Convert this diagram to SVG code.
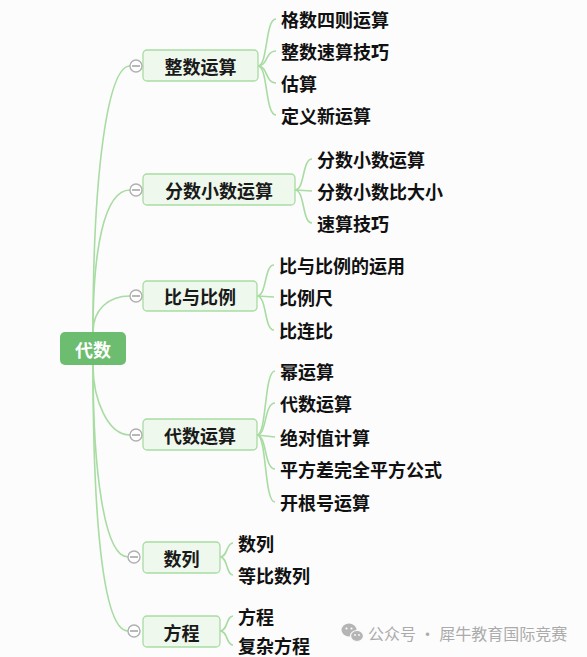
<svg xmlns="http://www.w3.org/2000/svg" width="587" height="657" viewBox="0 0 587 657">
<style>
text{font-family:"Noto Sans CJK SC","Noto Sans",sans-serif;font-weight:700;font-size:18px;dominant-baseline:central}
.leaf{fill:#111}
.topic rect{fill:#eef8ec;stroke:#a9dba3;stroke-width:1.3}
.topic text{fill:#1a1a1a;text-anchor:middle}
.ln{fill:none;stroke:#a8dca2;stroke-width:1.6}
.col circle{fill:#fff;stroke:#b0b0b0;stroke-width:1.4}
.col line{stroke:#9a9a9a;stroke-width:1.4}
.wm{fill:#ababab;font-weight:400;font-size:16px}
</style>
<rect width="587" height="657" fill="#fcfcfc"/>
<g id="connectors">
<path class="ln" d="M93 332 C93 170,108 66,130 66"/>
<path class="ln" d="M93 332 C93 250,104 190,130 190"/>
<path class="ln" d="M93 332 C93 310,108 296,130 296"/>
<path class="ln" d="M93 365 C93 400,108 435,130 435"/>
<path class="ln" d="M93 365 C93 470,104 557,128 557"/>
<path class="ln" d="M93 365 C93 510,102 631,128 631"/>
<path class="ln" d="M258 66 C268 66,265 19,276 19"/>
<path class="ln" d="M258 66 C268 66,265 51,276 51"/>
<path class="ln" d="M258 66 C268 66,265 83,276 83"/>
<path class="ln" d="M258 66 C268 66,265 115,276 115"/>
<path class="ln" d="M295 190 C305 190,302 159,312 159"/>
<path class="ln" d="M295 190 L312 191"/>
<path class="ln" d="M295 190 C305 190,302 223,312 223"/>
<path class="ln" d="M257 296 C267 296,264 265,274 265"/>
<path class="ln" d="M257 296 L274 297"/>
<path class="ln" d="M257 296 C267 296,264 330,274 330"/>
<path class="ln" d="M257 435 C267 435,264 371,275 371"/>
<path class="ln" d="M257 435 C267 435,264 403,275 403"/>
<path class="ln" d="M257 435 L275 437"/>
<path class="ln" d="M257 435 C267 435,264 469,275 469"/>
<path class="ln" d="M257 435 C267 435,264 502,275 502"/>
<path class="ln" d="M220 557 C228 557,226 543,233 543"/>
<path class="ln" d="M220 557 C228 557,226 575,233 575"/>
<path class="ln" d="M220 631 C228 631,226 616,233 616"/>
<path class="ln" d="M220 631 C228 631,226 645,233 645"/>
</g>
<g id="root">
<rect x="60" y="332" width="66" height="33" rx="5" fill="#6dbd71"/>
<text x="93" y="349" fill="#fff" text-anchor="middle">代数</text>
</g>
<g id="n1" class="topic">
<rect x="143" y="50" width="115" height="31" rx="4"/>
<text x="200.5" y="66">整数运算</text>
<g class="col"><circle cx="136" cy="66" r="6"/><line x1="132" y1="66" x2="140" y2="66"/></g>
</g>
<g id="n2" class="topic">
<rect x="143" y="174" width="152" height="31" rx="4"/>
<text x="219" y="190">分数小数运算</text>
<g class="col"><circle cx="136" cy="190" r="6"/><line x1="132" y1="190" x2="140" y2="190"/></g>
</g>
<g id="n3" class="topic">
<rect x="143" y="281" width="114" height="30" rx="4"/>
<text x="200" y="296">比与比例</text>
<g class="col"><circle cx="136" cy="296" r="6"/><line x1="132" y1="296" x2="140" y2="296"/></g>
</g>
<g id="n4" class="topic">
<rect x="143" y="419" width="114" height="31" rx="4"/>
<text x="200" y="435">代数运算</text>
<g class="col"><circle cx="136" cy="435" r="6"/><line x1="132" y1="435" x2="140" y2="435"/></g>
</g>
<g id="n5" class="topic">
<rect x="143" y="542" width="77" height="31" rx="4"/>
<text x="181.5" y="558">数列</text>
<g class="col"><circle cx="134" cy="557" r="6"/><line x1="130" y1="557" x2="138" y2="557"/></g>
</g>
<g id="n6" class="topic">
<rect x="143" y="616" width="77" height="31" rx="4"/>
<text x="181.5" y="632">方程</text>
<g class="col"><circle cx="134" cy="631" r="6"/><line x1="130" y1="631" x2="138" y2="631"/></g>
</g>
<g id="leaves1">
<text class="leaf" x="281" y="19">格数四则运算</text>
<text class="leaf" x="281" y="51">整数速算技巧</text>
<text class="leaf" x="281" y="83">估算</text>
<text class="leaf" x="281" y="115">定义新运算</text>
</g>
<g id="leaves2">
<text class="leaf" x="317" y="159">分数小数运算</text>
<text class="leaf" x="317" y="191">分数小数比大小</text>
<text class="leaf" x="317" y="223">速算技巧</text>
</g>
<g id="leaves3">
<text class="leaf" x="279" y="265">比与比例的运用</text>
<text class="leaf" x="279" y="297">比例尺</text>
<text class="leaf" x="279" y="330">比连比</text>
</g>
<g id="leaves4">
<text class="leaf" x="280" y="371">幂运算</text>
<text class="leaf" x="280" y="403">代数运算</text>
<text class="leaf" x="280" y="437">绝对值计算</text>
<text class="leaf" x="280" y="469">平方差完全平方公式</text>
<text class="leaf" x="280" y="502">开根号运算</text>
</g>
<g id="leaves5">
<text class="leaf" x="238" y="543">数列</text>
<text class="leaf" x="238" y="575">等比数列</text>
</g>
<g id="leaves6">
<text class="leaf" x="238" y="616">方程</text>
<text class="leaf" x="238" y="645">复杂方程</text>
</g>
<g id="watermark">
<ellipse cx="349" cy="630" rx="7.5" ry="6.5" fill="#b5b5b5"/>
<ellipse cx="357" cy="636" rx="6.5" ry="5.5" fill="#b5b5b5" stroke="#fcfcfc" stroke-width="1.2"/>
<circle cx="346.5" cy="628.5" r="1.1" fill="#fcfcfc"/>
<circle cx="351.5" cy="628.5" r="1.1" fill="#fcfcfc"/>
<circle cx="355" cy="635" r="0.9" fill="#fcfcfc"/>
<circle cx="359" cy="635" r="0.9" fill="#fcfcfc"/>
<text class="wm" x="368" y="633">公众号 · 犀牛教育国际竞赛</text>
</g>
</svg>
